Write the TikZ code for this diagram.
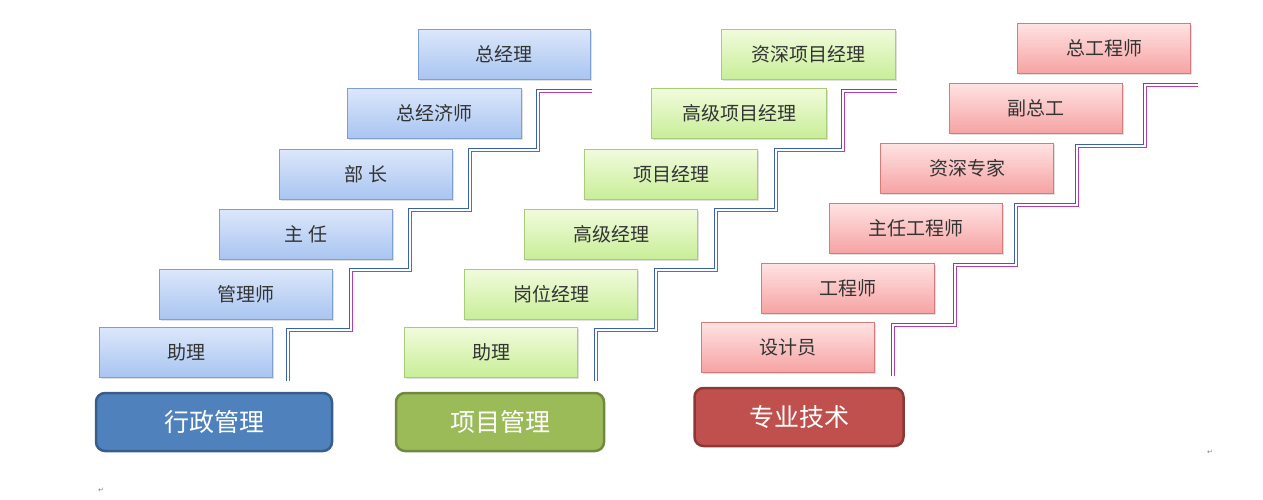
\documentclass[tikz,border=0pt]{standalone}
\usepackage{fontspec}
\setmainfont{Noto Sans CJK SC}
\newfontfamily\symf{DejaVu Sans}
\usetikzlibrary{shadows}
\definecolor{bT}{HTML}{DCE7FB}\definecolor{bB}{HTML}{A9C5F1}\definecolor{bD}{HTML}{7E9FD3}
\definecolor{gT}{HTML}{F2FBDD}\definecolor{gB}{HTML}{C8EE98}\definecolor{gD}{HTML}{A8CC78}
\definecolor{rT}{HTML}{FFE3E3}\definecolor{rB}{HTML}{F6A3A3}\definecolor{rD}{HTML}{D87A7A}
\definecolor{stb}{HTML}{3A5FB5}\definecolor{stm}{HTML}{B040B0}
\tikzset{
 rank/.style={draw, line width=1pt, minimum width=173pt, minimum height=50pt, font=\fontsize{19pt}{21pt}\selectfont, text=black!80, drop shadow={opacity=0.25,shadow xshift=1.5pt,shadow yshift=-1.5pt}},
 bl/.style={rank, top color=bT, bottom color=bB, draw=bD},
 gr/.style={rank, top color=gT, bottom color=gB, draw=gD},
 rd/.style={rank, top color=rT, bottom color=rB, draw=rD},
 cat/.style={draw, rounded corners=9pt, line width=2.5pt, minimum height=58pt, text=white, font=\fontsize{25pt}{28pt}\selectfont},
 sb/.style={stb, line width=1.2pt},
 sm/.style={stm, line width=1.2pt},
 pm/.style={text=gray, font=\symf\fontsize{7pt}{8pt}\selectfont}
}
\begin{document}
\begin{tikzpicture}[x=1pt,y=-1pt]
\useasboundingbox (0,0) rectangle (1263,499);
% column 1
\node[bl] (a1) at (186,352) {助理};
\node[bl] (a2) at (246,294) {管理师};
\node[bl] (a3) at (306,234) {主 任};
\node[bl] (a4) at (366,174) {部 长};
\node[bl, minimum width=174pt] (a5) at (434,113) {总经济师};
\node[bl, minimum width=172pt] (a6) at (504,54) {总经理};
% column 2
\node[gr] (b1) at (491,352) {助理};
\node[gr] (b2) at (551,294) {岗位经理};
\node[gr] (b3) at (611,234) {高级经理};
\node[gr] (b4) at (671,174) {项目经理};
\node[gr, minimum width=175pt] (b5) at (739,113) {高级项目经理};
\node[gr, minimum width=174pt] (b6) at (808,54) {资深项目经理};
% column 3
\node[rd] (c1) at (788,347) {设计员};
\node[rd] (c2) at (848,288) {工程师};
\node[rd] (c3) at (916,228) {主任工程师};
\node[rd] (c4) at (967,168) {资深专家};
\node[rd] (c5) at (1036,108) {副总工};
\node[rd] (c6) at (1104,48) {总工程师};
% stairs
\foreach \sty/\d in {sb/-1.6, sm/1.6}{
 \draw[\sty] (288+\d,381) |- (351+\d,330+\d) |- (410+\d,270+\d) |- (470+\d,210+\d) |- (538+\d,150+\d) |- (592,91+\d);
 \draw[\sty] (596+\d,381) |- (656+\d,330+\d) |- (716+\d,270+\d) |- (776+\d,210+\d) |- (843+\d,150+\d) |- (897,91+\d);
 \draw[\sty] (893+\d,376) |- (955+\d,325+\d) |- (1016+\d,265+\d) |- (1077+\d,205+\d) |- (1145+\d,146+\d) |- (1198,85+\d);
}
% categories
\node[cat, fill=blue!45!cyan!40!black!0, fill={rgb,255:red,79;green,129;blue,189}, draw={rgb,255:red,56;green,93;blue,138}, minimum width=236pt] (k1) at (214,422) {行政管理};
\node[cat, fill={rgb,255:red,155;green,187;blue,89}, draw={rgb,255:red,113;green,137;blue,63}, minimum width=208pt] (k2) at (500,422) {项目管理};
\node[cat, fill={rgb,255:red,192;green,80;blue,77}, draw={rgb,255:red,140;green,56;blue,54}, minimum width=209pt] (k3) at (799,417) {专业技术};
\node[pm] (p1) at (1210,452) {↵};
\node[pm] (p2) at (101,490) {↵};
\end{tikzpicture}
\end{document}
